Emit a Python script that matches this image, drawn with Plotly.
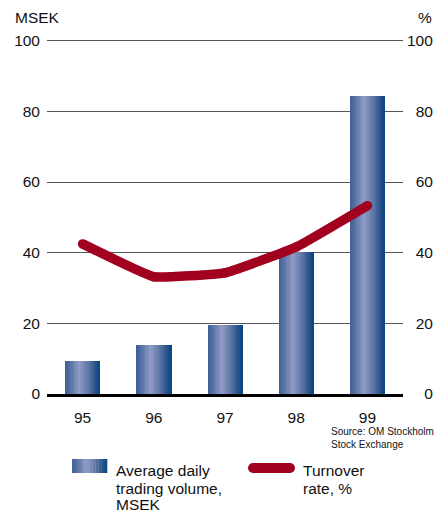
import plotly.graph_objects as go

# Data
years = ["95", "96", "97", "98", "99"]
volume_msek = [9.3, 13.9, 19.5, 40.1, 84.4]
turnover_pct = [42.5, 33.2, 34.3, 41.6, 53.3]
tick_vals = [0, 20, 40, 60, 80, 100]
left_tick_text = ["0", "20", "40", "60", "80", "100"]
# invisible leading digits keep the right-hand labels right-aligned
PAD = "<span style='color:rgba(0,0,0,0)'>%s</span>"
right_tick_text = [PAD % "00" + "0", PAD % "0" + "20", PAD % "0" + "40",
                   PAD % "0" + "60", PAD % "0" + "80", "100"]

FONT = "Liberation Sans, Arial, Helvetica, sans-serif"
W, H = 437, 512
L, R, T, B = 47, 34, 39, 118
PW, PH = W - L - R, H - T - B
Y_TOP = 100.5

# Horizontal shading of the volume bars (position 0..1 across the bar -> rgb)
STOPS = [
    (0.00, (60, 94, 150)),
    (0.15, (88, 114, 164)),
    (0.40, (143, 156, 197)),
    (0.65, (98, 121, 168)),
    (0.85, (45, 85, 140)),
    (1.00, (6, 70, 128)),
]


def shade(t):
    for (t0, c0), (t1, c1) in zip(STOPS, STOPS[1:]):
        if t <= t1:
            f = (t - t0) / (t1 - t0) if t1 > t0 else 0
            return "rgb(%d,%d,%d)" % tuple(round(a + (b - a) * f) for a, b in zip(c0, c1))
    return "rgb(%d,%d,%d)" % STOPS[-1][1]


def px(x):
    return (x - L) / PW


def py(y):
    return (T + PH - y) / PH


fig = go.Figure()

# Volume bars: overlapping slices, each starting further right, painted left to right
BAR_W = 0.49
N = 28
for i in range(N):
    start = -BAR_W / 2 + i * BAR_W / N
    fig.add_trace(go.Bar(
        x=years, y=volume_msek,
        offset=start, width=BAR_W / 2 - start,
        marker=dict(color=shade((i + 0.5) / N), line=dict(width=0)),
        hoverinfo="skip", showlegend=False, yaxis="y",
    ))

# Turnover rate line
fig.add_trace(go.Scatter(
    x=years, y=turnover_pct, yaxis="y2",
    mode="lines+markers",
    line=dict(color="#A1001F", width=9.5, shape="spline", smoothing=0.3),
    marker=dict(color="#A1001F", size=9.5, line=dict(width=0)),
    showlegend=False,
))

shapes = []
# Legend swatch for volume
sx0, sx1, sy0, sy1 = 72, 107, 459, 473
NS = 12
for i in range(NS):
    a = sx0 + (sx1 - sx0) * i / NS
    b = sx0 + (sx1 - sx0) * (i + 1) / NS
    shapes.append(dict(type="rect", xref="paper", yref="paper",
                       x0=px(a), x1=px(b + 0.3), y0=py(sy1), y1=py(sy0),
                       fillcolor=shade((i + 0.5) / NS), line=dict(width=0), layer="above"))
# Legend swatch for turnover (rounded bar)
lx0, lx1, ly = 253, 290, 468
shapes.append(dict(type="line", xref="paper", yref="paper",
                   x0=px(lx0), x1=px(lx1), y0=py(ly), y1=py(ly),
                   line=dict(color="#A1001F", width=10)))
for cx in (lx0, lx1):
    shapes.append(dict(type="circle", xref="paper", yref="paper",
                       xsizemode="pixel", ysizemode="pixel",
                       xanchor=px(cx), yanchor=py(ly),
                       x0=-5, x1=5, y0=-5, y1=5,
                       fillcolor="#A1001F", line=dict(width=0)))

annotations = []


def label(text, x, y, size=15.5, anchor="left"):
    annotations.append(dict(text=text, xref="paper", yref="paper",
                            x=px(x), y=py(y), xanchor=anchor, yanchor="middle",
                            showarrow=False, font=dict(family=FONT, size=size, color="#111")))


label("MSEK", 13, 17)
label("%", 434, 17, anchor="right")
label("Source: OM Stockholm", 329, 431, size=10)
label("Stock Exchange", 329, 444, size=10)
label("Average daily", 114, 470)
label("trading volume,", 114, 488.5)
label("MSEK", 114, 504.5)
label("Turnover", 301, 470)
label("rate, %", 301, 488.5)

fig.update_layout(
    width=W, height=H,
    margin=dict(l=L, r=R, t=T, b=B, pad=0, autoexpand=False),
    paper_bgcolor="white", plot_bgcolor="white",
    barmode="overlay", bargap=0,
    font=dict(family=FONT, size=15.5, color="#111"),
    xaxis=dict(type="category", showgrid=False, showline=True,
               linecolor="black", linewidth=2.5, ticks="", automargin=False,
               tickfont=dict(size=15.5), ticklabelstandoff=8),
    yaxis=dict(range=[0, Y_TOP], tickvals=tick_vals, ticktext=left_tick_text,
               showgrid=True, gridcolor="#555", gridwidth=1.2, automargin=False,
               zeroline=False, showline=False, ticks="",
               ticklabelstandoff=6),
    yaxis2=dict(range=[0, Y_TOP], overlaying="y", side="right",
                tickvals=tick_vals, ticktext=right_tick_text, automargin=False,
                showgrid=False, zeroline=False, showline=False, ticks="",
                ticklabelstandoff=3),
    shapes=shapes,
    annotations=annotations,
)

fig.write_html("out.html")
